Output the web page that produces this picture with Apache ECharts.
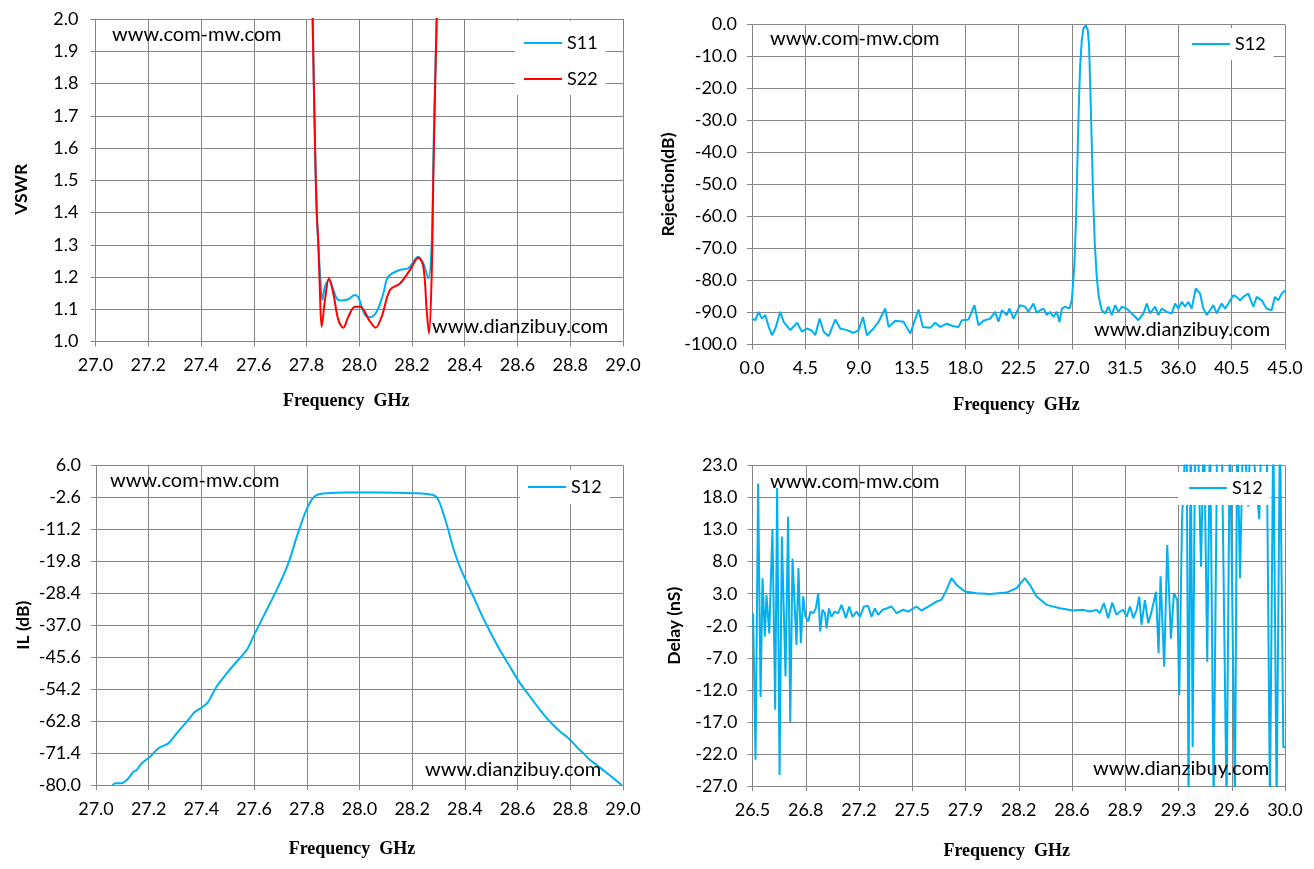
<!DOCTYPE html>
<html>
<head>
<meta charset="utf-8">
<script src="https://cdn.jsdelivr.net/npm/echarts@6/dist/echarts.min.js"></script>
<style>
html,body{margin:0;padding:0;background:#fff;}
#c{width:1314px;height:869px;}
</style>
</head>
<body>
<div id="c"></div>
<script>
// ---------- DATA ----------
// Top-left: VSWR
const VSWR_S11_FREQ = [27.80, 27.8133, 27.8233, 27.8322, 27.8385, 27.8448, 27.8537, 27.86, 27.8701, 27.8853, 27.9017, 27.9143, 27.927, 27.9586, 27.9838, 27.9965, 28.0218, 28.0407, 28.066, 28.0913, 28.1102, 28.1545, 28.186, 28.224, 28.243, 28.2619, 28.2745, 28.2834, 28.2935, 28.30, 28.31];
const VSWR_S11 = [3.1, 2.45, 2.0, 1.614, 1.408, 1.304, 1.18, 1.129, 1.17, 1.19, 1.16, 1.134, 1.127, 1.131, 1.144, 1.137, 1.082, 1.075, 1.092, 1.149, 1.201, 1.222, 1.227, 1.263, 1.242, 1.196, 1.304, 1.666, 1.997, 2.25, 2.6];
const VSWR_S22_FREQ = [27.80, 27.8133, 27.8233, 27.8322, 27.8385, 27.8448, 27.8511, 27.8575, 27.8701, 27.8853, 27.9017, 27.9207, 27.9396, 27.9586, 27.9838, 28.0028, 28.0407, 28.0622, 28.085, 28.1166, 28.1545, 28.1924, 28.224, 28.243, 28.2556, 28.2644, 28.2745, 28.2809, 28.2872, 28.2935, 28.30, 28.31];
const VSWR_S22 = [3.1, 2.45, 2.0, 1.614, 1.408, 1.304, 1.149, 1.046, 1.129, 1.196, 1.149, 1.067, 1.043, 1.077, 1.108, 1.108, 1.062, 1.043, 1.077, 1.16, 1.18, 1.222, 1.26, 1.232, 1.098, 1.025, 1.201, 1.511, 1.769, 1.997, 2.25, 2.6];

// Top-right: Rejection
const REJ_FREQ = [0, 0.28, 0.56, 0.84, 1.12, 1.41, 1.69, 1.97, 2.39, 2.67, 3.23, 3.80, 4.22, 4.64, 5.06, 5.34, 5.71, 6.05, 6.47, 7.03, 7.45, 8.01, 8.58, 9.00, 9.37, 9.70, 10.26, 10.69, 11.25, 11.53, 12.09, 12.80, 13.36, 14.06, 14.43, 15.04, 15.47, 15.89, 16.45, 17.01, 17.44, 17.72, 18.28, 18.78, 19.12, 19.54, 20.11, 20.53, 20.81, 21.09, 21.51, 21.74, 22.08, 22.64, 23.06, 23.34, 23.76, 24.04, 24.33,
  24.61, 24.89, 25.17, 25.45, 25.73, 25.96, 26.16, 26.44, 26.80,
  27.0, 27.083, 27.224, 27.364, 27.477, 27.589, 27.702, 27.843, 27.983, 28.18, 28.349, 28.461, 28.574, 28.686, 28.799, 28.939, 29.108, 29.277, 29.53,
  29.81, 30.09, 30.37, 30.66, 30.94, 31.22, 31.64, 32.2, 32.62, 33.05, 33.33, 33.61, 34.03, 34.31, 34.59, 35.02, 35.44, 35.72, 36.0, 36.28, 36.56, 36.84, 37.12, 37.46, 37.83, 38.11, 38.39, 38.67, 38.95, 39.23, 39.65, 39.94, 40.22, 40.64, 40.92, 41.2, 41.48, 41.9, 42.33, 42.61, 43.03, 43.45, 43.87, 44.15, 44.43, 44.72, 45.0];
const REJ_S12 = [-91.9, -92.4, -89.8, -91.9, -90.8, -94.5, -97.1, -95, -89.8, -92.9, -95.5, -93.2, -96, -95, -95.7, -97.1, -91.9, -96, -97.4, -92.2, -95, -95.5, -96.4, -95.5, -91.4, -97.1, -95, -92.9, -88.75, -94.5, -92.6, -92.9, -96.6, -89.1, -94.5, -94.8, -93.2, -94.5, -93.5, -94.3, -94.5, -92.4, -92.2, -87.7, -94, -92.6, -91.9, -89.8, -92.9, -89.3, -90.8, -88.75, -91.9, -87.7, -88.2, -89.8, -87.2, -90.1, -89.3,
  -88.8, -90.8, -89.8, -91.4, -89.8, -93, -88.8, -88.2, -88.8,
  -86.2, -82, -74.7, -60.1, -42.4, -25.7, -13.2, -4.9, -1.2, -0.3, -1.7, -6.9, -21.5, -37.2, -53.8, -68.4, -78.9, -85.1, -89.3,
  -90.3, -88.2, -90.8, -87.7, -89.8, -88.2, -88.8, -90.8, -92.4, -90.3, -87.2, -90.3, -88.2, -90.8, -88.8, -89.8, -90.3, -87.2, -88.8, -86.7, -88.2, -86.7, -88.8, -82.5, -84.1, -88.8, -90.8, -89.3, -87.7, -90.3, -87.2, -88.8, -87.2, -84.6, -85.1, -86.2, -85.1, -84.1, -88.2, -85.1, -86.2, -88.8, -89.3, -85.1, -86.2, -84.1, -83.1];

// Bottom-left: insertion loss
const IL_FREQ = [27.0, 27.059, 27.072, 27.097, 27.123, 27.142, 27.154, 27.173, 27.205, 27.237, 27.275, 27.306, 27.344, 27.376, 27.407, 27.426, 27.458, 27.496, 27.534, 27.572, 27.597, 27.635, 27.667, 27.698, 27.73, 27.762, 27.793, 27.818, 27.837, 27.875, 27.951, 28.078, 28.204, 28.28, 28.299, 28.318, 28.337, 28.356, 28.381, 28.4, 28.432, 28.464, 28.495, 28.533, 28.571, 28.609, 28.647, 28.685, 28.723, 28.761, 28.793, 28.824, 28.85, 28.875, 28.9, 28.925, 28.957, 28.995];
const IL_S12 = [-82, -80.4, -79.5, -79.5, -78.2, -76.4, -76, -74.2, -72.4, -70.1, -68.8, -66.1, -63, -60.3, -58.9, -57.6, -53.5, -50, -46.8, -43.7, -40.1, -34.7, -30.2, -25.7, -20.4, -13.2, -6.9, -3.3, -2, -1.5, -1.3, -1.3, -1.5, -2, -3.3, -6.9, -11.4, -16.3, -21.3, -24.4, -29.3, -34.3, -38.7, -43.7, -48.2, -52.6, -56.2, -59.8, -63, -65.6, -67.4, -69.7, -71.5, -73.3, -74.6, -76, -77.8, -80];

// Bottom-right: group delay
const DELAY_FREQ = [26.504, 26.52, 26.537, 26.553, 26.566, 26.581, 26.592, 26.61, 26.631, 26.649, 26.662, 26.678, 26.693, 26.717, 26.734, 26.748, 26.763, 26.789, 26.802, 26.818, 26.833, 26.848, 26.866, 26.881, 26.899, 26.916, 26.932, 26.945, 26.96, 26.976, 26.987, 27.002, 27.019, 27.041, 27.063, 27.085, 27.114, 27.136, 27.157, 27.184, 27.206, 27.232, 27.26, 27.282, 27.304, 27.326, 27.355, 27.381, 27.414, 27.447, 27.491, 27.523,
  27.578, 27.61, 27.655, 27.71, 27.742, 27.775, 27.808, 27.841, 27.896, 27.973, 28.06, 28.17, 28.236, 28.29, 28.323, 28.367, 28.433, 28.52, 28.608, 28.674, 28.718, 28.762, 28.783, 28.81, 28.838, 28.864, 28.893,
  28.915, 28.937, 28.959, 28.981, 29.003, 29.025, 29.042, 29.057, 29.079, 29.101, 29.123, 29.152, 29.169, 29.182, 29.206, 29.226, 29.25, 29.27, 29.292, 29.305, 29.323, 29.353, 29.366, 29.38, 29.393, 29.41, 29.43, 29.448, 29.467, 29.489, 29.507, 29.531, 29.555, 29.583, 29.616, 29.638, 29.671, 29.686, 29.704, 29.726, 29.759, 29.774, 29.792, 29.831, 29.846, 29.879, 29.901, 29.923, 29.945, 29.967, 29.989, 30.0];
const DELAY_S12 = [-0.05, -22.9, 20.2, -13.1, 5.4, -3.7, 2.8, -3.2, 13, -15.1, 19.5, -25.3, 11.9, -9.9, 15, -17, 8.5, -5, 7, -4.7, 2.6, -0.6, -1.35, 0.2, -0.05, 0.7, 3.1, -2.9, 0.5, -0.05, -2.4, 0.7, -0.6, 0.2, -0.05, 1.25, -0.8, 1, -0.6, 0.2, -0.6, 1, 1.1, -0.6, 0.7, -0.3, 0.5, 0.7, 1, -0.05, 0.5, 0.2,
  1, 0.37, 1, 1.78, 2.04, 3.6, 5.42, 4.38, 3.34, 3.08, 2.97, 3.18, 3.86, 5.42, 4.38, 2.56, 1.26, 0.74, 0.37, 0.48, 0.22, 0.48, -0.04, 1.52, -0.83, 1.62, -0.3,
  0.2, 0.47, -0.57, 1, -0.83, 0.47, 2.55, -1.87, 2, -1.6, 0.2, 3.3, -6.3, 5.7, -8.4, 10.6, -4, 3.1, 2, -12.8, 14.5, 30, -30, 30, -20.9, 30, 25, 7.2, 30, -7.6, 30, -30, 30, 30, -30, 30, -30, 30, 5.4, 30, 16.6, 30, 25, 14.6, 30, 30, -30, 30, -30, 30, -20.9, -20.9];

// Axis ranges / ticks: [min, max, step]
const VSWR_X = [27.0, 29.0, 0.2], VSWR_Y = [1.0, 2.0, 0.1];
const REJ_X = [0, 45, 4.5], REJ_Y = [-100, 0, 10];
const IL_X = [27.0, 29.0, 0.2], IL_Y = [-80, 6, 8.6];
const DELAY_X = [26.5, 30.0, 0.35], DELAY_Y = [-27, 23, 5];
const DELAY_X_TICKS = ['26.5', '26.8', '27.2', '27.5', '27.9', '28.2', '28.6', '28.9', '29.3', '29.6', '30.0'];

// ---------- CHART ----------
const GRAY = '#868686';
const BLUE = '#00B0F0';
const RED = '#FF0000';
const LABEL_FONT = 'Lato';

function zipPairs(xs, ys, xOff, yOff) {
  return xs.map((x, i) => [x - (xOff || 0), ys[i] - (yOff || 0)]);
}

function axis(gridIndex, range, opts) {
  return Object.assign({
    type: 'value',
    gridIndex: gridIndex,
    min: range[0], max: range[1], interval: range[2],
    axisLine: { show: true, onZero: false, lineStyle: { color: GRAY, width: 1 } },
    axisTick: { show: true, length: 5, inside: false, lineStyle: { color: GRAY, width: 1 } },
    splitLine: { show: true, lineStyle: { color: GRAY, width: 1 } },
    nameLocation: 'middle'
  }, opts);
}

function xName(gap, shiftLeft) {
  return { name: 'Frequency  GHz', nameGap: gap,
    nameTextStyle: { fontFamily: 'Liberation Serif', fontWeight: 'bold', fontSize: 18, color: '#000',
      padding: [0, 2 * shiftLeft, 0, 0] } };
}
function yName(name, gap, shiftDown) {
  return { name: name, nameGap: gap,
    nameTextStyle: { fontFamily: LABEL_FONT, fontWeight: 'bold', fontSize: 17.5, color: '#000',
      padding: [0, 2 * (shiftDown || 0), 0, 0] } };
}
function lbl(formatter, margin) {
  return { axisLabel: { color: '#000', fontFamily: LABEL_FONT, fontSize: 18, margin: margin, formatter: formatter } };
}
const f1 = v => Number(v).toFixed(1);

const xAxes = [
  axis(0, VSWR_X, Object.assign({}, xName(51, 13), lbl(f1, 15))),
  axis(1, REJ_X, Object.assign({}, xName(51.5, 2), lbl(f1, 15))),
  axis(2, IL_X, Object.assign({}, xName(55, 7.5), lbl(f1, 15))),
  axis(3, [0, DELAY_X[1] - DELAY_X[0], DELAY_X[2]], Object.assign({}, xName(56, 12),
    lbl(v => DELAY_X_TICKS[Math.round(v / DELAY_X[2])] || '', 15)))
];
const yAxes = [
  axis(0, VSWR_Y, Object.assign({}, yName('VSWR', 65, 9), lbl(f1, 17))),
  axis(1, REJ_Y, Object.assign({}, yName('Rejection(dB)', 75), lbl(f1, 15))),
  axis(2, [0, IL_Y[1] - IL_Y[0], IL_Y[2]], Object.assign({}, yName('IL (dB)', 64),
    lbl(v => (v + IL_Y[0]).toFixed(1), 15))),
  axis(3, [0, DELAY_Y[1] - DELAY_Y[0], DELAY_Y[2]], Object.assign({}, yName('Delay (nS)', 69),
    lbl(v => (v + DELAY_Y[0]).toFixed(1), 15)))
];

function line(name, idx, data, color, smooth) {
  return {
    name: name, type: 'line', xAxisIndex: idx, yAxisIndex: idx,
    data: data, symbol: 'none', showSymbol: false, smooth: smooth,
    clip: true, animation: false,
    lineStyle: { color: color, width: 2 }, itemStyle: { color: color }
  };
}

const series = [
  line('S11', 0, zipPairs(VSWR_S11_FREQ, VSWR_S11), BLUE, 0.35),
  line('S22', 0, zipPairs(VSWR_S22_FREQ, VSWR_S22), RED, 0.35),
  line('S12', 1, zipPairs(REJ_FREQ, REJ_S12), BLUE, false),
  line('S12', 2, zipPairs(IL_FREQ, IL_S12, 0, IL_Y[0]), BLUE, 0.3),
  line('S12', 3, zipPairs(DELAY_FREQ, DELAY_S12, DELAY_X[0], DELAY_Y[0]), BLUE, false)
];

function legend(left, top, names, padding) {
  return {
    left: left, top: top, orient: 'vertical', data: names,
    icon: 'rect', padding: padding, itemGap: 16, itemWidth: 38, itemHeight: 2,
    backgroundColor: '#fff', selectedMode: false,
    textStyle: { fontFamily: LABEL_FONT, fontSize: 18, lineHeight: 20, color: '#000' }
  };
}

function wm(text, x, y) {
  return { type: 'text', x: x, y: y, z: 10,
    style: { text: text, font: '20px Lato', fill: '#000', verticalAlign: 'middle' } };
}

const option = {
  animation: false,
  backgroundColor: '#fff',
  grid: [
    { left: 95.5, top: 19, width: 527.5, height: 322.5 },
    { left: 752, top: 24.5, width: 533, height: 320 },
    { left: 96, top: 465.3, width: 527, height: 319.7 },
    { left: 752.5, top: 465.5, width: 532.5, height: 320.5 }
  ],
  xAxis: xAxes,
  yAxis: yAxes,
  legend: [
    legend(515, 21, ['S11', 'S22'], [12, 8, 6, 9]),
    legend(1180, 28, ['S12'], [6, 8, 6, 12]),
    legend(520, 470, ['S12'], [7, 8, 7, 8]),
    legend(1178, 472, ['S12'], [6, 8, 7, 11])
  ],
  graphic: [
    wm('www.com-mw.com', 112, 35),
    wm('www.com-mw.com', 770, 39),
    wm('www.dianzibuy.com', 432, 327),
    wm('www.dianzibuy.com', 1094, 330),
    wm('www.com-mw.com', 110, 481),
    wm('www.dianzibuy.com', 425, 770),
    wm('www.com-mw.com', 770, 482),
    wm('www.dianzibuy.com', 1093, 769)
  ],
  series: series
};

const chart = echarts.init(document.getElementById('c'), null, { renderer: 'canvas' });
chart.setOption(option);
</script>
</body>
</html>
